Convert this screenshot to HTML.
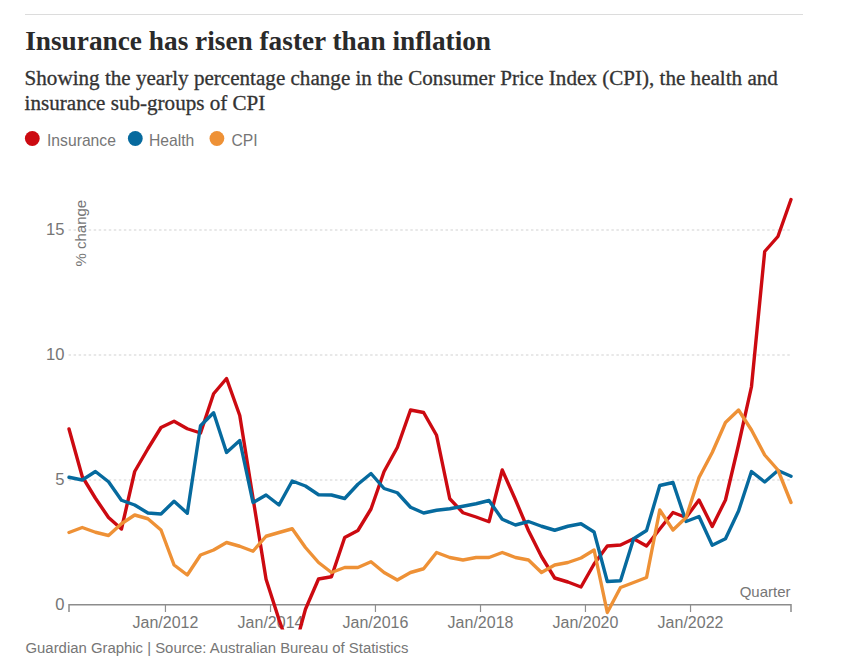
<!DOCTYPE html>
<html><head><meta charset="utf-8"><style>
html,body{margin:0;padding:0;background:#fff;}
body{width:855px;height:671px;overflow:hidden;}
svg{display:block;}
.ax{font-family:"Liberation Sans", sans-serif;font-size:16px;fill:#767676;}
.ay{font-family:"Liberation Sans", sans-serif;font-size:16.6px;fill:#767676;}
.ax2{font-family:"Liberation Sans", sans-serif;font-size:15px;fill:#767676;}
.lg{font-family:"Liberation Sans", sans-serif;font-size:15.7px;fill:#767676;}
.ft{font-family:"Liberation Sans", sans-serif;font-size:14.9px;fill:#767676;}
.ti{font-family:"Liberation Serif", serif;font-weight:bold;font-size:27.3px;fill:#2a2a2a;}
.st{font-family:"Liberation Serif", serif;font-size:21.1px;fill:#333;stroke:#333;stroke-width:0.3px;}
</style></head><body>
<svg width="855" height="671" viewBox="0 0 855 671">
<defs><clipPath id="c"><rect x="0" y="160" width="855" height="469.5"/></clipPath></defs>
<line x1="25" y1="14.5" x2="803" y2="14.5" stroke="#dcdcdc" stroke-width="1"/>
<line x1="68.55" y1="480.0" x2="791" y2="480.0" stroke="#d2d2d2" stroke-width="1.2" stroke-dasharray="2.5,2.526"/>
<line x1="68.55" y1="355.0" x2="791" y2="355.0" stroke="#d2d2d2" stroke-width="1.2" stroke-dasharray="2.5,2.526"/>
<line x1="68.55" y1="230.0" x2="791" y2="230.0" stroke="#d2d2d2" stroke-width="1.2" stroke-dasharray="2.5,2.526"/>
<text x="64.5" y="610.0" text-anchor="end" class="ay">0</text>
<text x="64.5" y="485.0" text-anchor="end" class="ay">5</text>
<text x="64.5" y="360.0" text-anchor="end" class="ay">10</text>
<text x="64.5" y="235.0" text-anchor="end" class="ay">15</text>
<text class="ax2" transform="translate(86.2,266.5) rotate(-90)">% change</text>
<path d="M69,612 V604.7 H791 V612" fill="none" stroke="#8c8c8c" stroke-width="1.5"/>
<line x1="165.45" y1="605" x2="165.45" y2="612" stroke="#8f8f8f" stroke-width="1.2"/>
<text x="165.45" y="627.5" text-anchor="middle" class="ax">Jan/2012</text>
<line x1="270.52" y1="605" x2="270.52" y2="612" stroke="#8f8f8f" stroke-width="1.2"/>
<text x="270.52" y="627.5" text-anchor="middle" class="ax">Jan/2014</text>
<line x1="375.45" y1="605" x2="375.45" y2="612" stroke="#8f8f8f" stroke-width="1.2"/>
<text x="375.45" y="627.5" text-anchor="middle" class="ax">Jan/2016</text>
<line x1="480.52" y1="605" x2="480.52" y2="612" stroke="#8f8f8f" stroke-width="1.2"/>
<text x="480.52" y="627.5" text-anchor="middle" class="ax">Jan/2018</text>
<line x1="585.45" y1="605" x2="585.45" y2="612" stroke="#8f8f8f" stroke-width="1.2"/>
<text x="585.45" y="627.5" text-anchor="middle" class="ax">Jan/2020</text>
<line x1="690.53" y1="605" x2="690.53" y2="612" stroke="#8f8f8f" stroke-width="1.2"/>
<text x="690.53" y="627.5" text-anchor="middle" class="ax">Jan/2022</text>
<text x="790.5" y="596.5" text-anchor="end" class="ax2">Quarter</text>
<g clip-path="url(#c)" fill="none" stroke-linejoin="round" stroke-linecap="round">
<path d="M69.00,429.00 L82.22,476.50 L95.45,498.25 L108.53,517.50 L121.46,529.00 L134.69,471.50 L147.91,448.75 L160.99,427.50 L174.07,421.25 L187.30,428.75 L200.52,433.00 L213.60,393.75 L226.54,378.50 L239.76,415.50 L252.99,498.00 L266.07,579.25 L279.00,619.50 L292.23,657.50 L305.45,609.25 L318.53,579.00 L331.47,576.75 L344.69,537.50 L357.91,530.50 L371.00,509.00 L384.08,471.50 L397.30,447.50 L410.52,410.00 L423.60,412.50 L436.54,435.25 L449.76,498.75 L462.99,512.75 L476.07,517.00 L489.00,521.75 L502.23,470.00 L515.45,499.75 L528.53,530.75 L541.47,556.50 L554.69,578.00 L567.92,582.00 L581.00,587.00 L594.08,564.00 L607.30,546.00 L620.53,545.00 L633.61,538.75 L646.54,546.00 L659.77,529.00 L672.99,512.50 L686.07,517.50 L699.01,500.00 L712.23,526.50 L725.46,500.00 L738.54,444.75 L751.47,386.75 L764.70,251.50 L777.92,236.50 L791.00,199.50" stroke="#cc0a11" stroke-width="3.4"/>
<path d="M69.00,477.25 L82.22,480.00 L95.45,471.50 L108.53,481.75 L121.46,500.25 L134.69,505.00 L147.91,513.00 L160.99,514.00 L174.07,501.25 L187.30,513.25 L200.52,425.75 L213.60,412.75 L226.54,452.50 L239.76,440.50 L252.99,502.50 L266.07,495.00 L279.00,505.00 L292.23,481.00 L305.45,486.00 L318.53,494.75 L331.47,495.00 L344.69,498.50 L357.91,484.25 L371.00,473.50 L384.08,488.50 L397.30,492.75 L410.52,507.25 L423.60,513.00 L436.54,510.25 L449.76,508.75 L462.99,506.25 L476.07,503.75 L489.00,500.50 L502.23,519.25 L515.45,525.00 L528.53,521.50 L541.47,526.25 L554.69,530.25 L567.92,526.25 L581.00,523.75 L594.08,532.00 L607.30,581.50 L620.53,580.75 L633.61,538.75 L646.54,530.50 L659.77,485.50 L672.99,482.50 L686.07,521.50 L699.01,516.50 L712.23,545.25 L725.46,538.75 L738.54,511.00 L751.47,471.50 L764.70,482.00 L777.92,470.50 L791.00,476.25" stroke="#066a9e" stroke-width="3.4"/>
<path d="M69.00,532.50 L82.22,527.50 L95.45,532.25 L108.53,535.50 L121.46,523.75 L134.69,515.00 L147.91,518.75 L160.99,530.00 L174.07,565.00 L187.30,575.00 L200.52,555.00 L213.60,550.00 L226.54,542.50 L239.76,546.25 L252.99,551.25 L266.07,536.25 L279.00,532.50 L292.23,528.75 L305.45,547.50 L318.53,562.50 L331.47,572.50 L344.69,567.50 L357.91,567.50 L371.00,561.75 L384.08,572.50 L397.30,580.00 L410.52,572.50 L423.60,568.75 L436.54,552.50 L449.76,557.50 L462.99,560.00 L476.07,557.50 L489.00,557.50 L502.23,552.50 L515.45,557.50 L528.53,560.00 L541.47,572.50 L554.69,565.00 L567.92,562.50 L581.00,558.00 L594.08,550.00 L607.30,612.50 L620.53,587.50 L633.61,582.50 L646.54,577.50 L659.77,510.00 L672.99,530.00 L686.07,517.50 L699.01,477.50 L712.23,452.50 L725.46,422.50 L738.54,410.00 L751.47,430.00 L764.70,455.00 L777.92,470.00 L791.00,502.50" stroke="#ee9136" stroke-width="3.4"/>
</g>
<circle cx="32.3" cy="138.5" r="7.4" fill="#cc0a11"/>
<circle cx="135.3" cy="138.5" r="7.4" fill="#066a9e"/>
<circle cx="216.9" cy="138.5" r="7.4" fill="#ee9136"/>
<text x="47" y="146" class="lg">Insurance</text>
<text x="149" y="146" class="lg">Health</text>
<text x="231.4" y="146" class="lg">CPI</text>
<text x="25.2" y="50.4" class="ti">Insurance has risen faster than inflation</text>
<text x="24.6" y="85.2" class="st">Showing the yearly percentage change in the Consumer Price Index (CPI), the health and</text>
<text x="24.6" y="110.1" class="st">insurance sub-groups of CPI</text>
<text x="25.5" y="653.3" class="ft">Guardian Graphic | Source: Australian Bureau of Statistics</text>
</svg>
</body></html>
